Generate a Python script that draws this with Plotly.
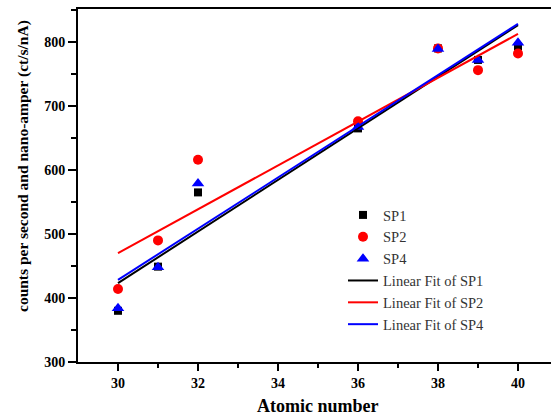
import numpy as np
import plotly.graph_objects as go

atomic = [30, 31, 32, 36, 38, 39, 40]
sp1 = [380, 449, 565, 665, 790, 772, 793]
sp2 = [414, 490, 616, 676, 790, 756, 782]
sp4 = [384, 448, 579, 667, 789, 772, 799]

x_ticks = [30, 32, 34, 36, 38, 40]
y_ticks = [300, 400, 500, 600, 700, 800]

W, H = 551, 416
L, R, T, B = 78, 0, 9, 54
PW = W - L - R
PH = H - T - B

FONT = "Liberation Serif"

fig = go.Figure()
fig.add_trace(go.Scatter(x=atomic, y=sp1, mode="markers", name="SP1",
                         marker=dict(symbol="square", size=8, color="black")))
fig.add_trace(go.Scatter(x=atomic, y=sp2, mode="markers", name="SP2",
                         marker=dict(symbol="circle", size=10, color="red")))
fig.add_trace(go.Scatter(x=atomic, y=sp4, mode="markers", name="SP4",
                         marker=dict(symbol="triangle-up", size=11, color="blue")))

xfit = np.array([min(atomic), max(atomic)], dtype=float)
for ys, col, nm in [(sp1, "black", "Linear Fit of SP1"),
                    (sp2, "red", "Linear Fit of SP2"),
                    (sp4, "blue", "Linear Fit of SP4")]:
    k, b = np.polyfit(atomic, ys, 1)
    fig.add_trace(go.Scatter(x=xfit, y=k * xfit + b, mode="lines", name=nm,
                             line=dict(color=col, width=2)))

x0 = 29
x1 = x0 + PW / 40.0
fig.update_layout(
    width=W, height=H,
    margin=dict(l=L, r=R, t=T, b=B),
    paper_bgcolor="white", plot_bgcolor="white",
    font=dict(family=FONT, color="black"),
    showlegend=True,
    legend=dict(x=(343 - L) / PW, xanchor="left", y=(H - B - 199) / PH, yanchor="top",
                font=dict(family=FONT, size=14.5, color="#333333"),
                bgcolor="rgba(0,0,0,0)", borderwidth=0, tracegroupgap=0),
    xaxis=dict(range=[x0, x1], tickvals=x_ticks, showgrid=False, zeroline=False,
               showline=True, linecolor="black", linewidth=2, mirror=True,
               ticks="outside", ticklen=7, tickwidth=2, tickcolor="black",
               tickfont=dict(family=FONT, size=14, weight="bold"),
               minor=dict(tickvals=[31, 33, 35, 37, 39], ticks="outside", ticklen=4,
                          tickwidth=2, tickcolor="black")),
    yaxis=dict(range=[300, 300 + PH / 0.64], tickvals=y_ticks, showgrid=False, zeroline=False,
               showline=True, linecolor="black", linewidth=2, mirror=False,
               ticks="outside", ticklen=8, tickwidth=2, tickcolor="black",
               tickfont=dict(family=FONT, size=14, weight="bold"),
               minor=dict(tickvals=[350, 450, 550, 650, 750, 850], ticks="outside",
                          ticklen=5, tickwidth=2, tickcolor="black")),
    annotations=[
        dict(text="Atomic number", x=(317 - L) / PW, y=-(406 - (H - B)) / PH,
             xref="paper", yref="paper", showarrow=False, xanchor="center", yanchor="middle",
             font=dict(family=FONT, size=18, weight="bold")),
        dict(text="counts per second and nano-amper (ct/s/nA)", x=-(L - 23) / PW,
             y=(H - B - 166) / PH, xref="paper", yref="paper", showarrow=False,
             textangle=-90, xanchor="center", yanchor="middle",
             font=dict(family=FONT, size=15.5, weight="bold")),
    ],
)

fig.write_html("out.html")
